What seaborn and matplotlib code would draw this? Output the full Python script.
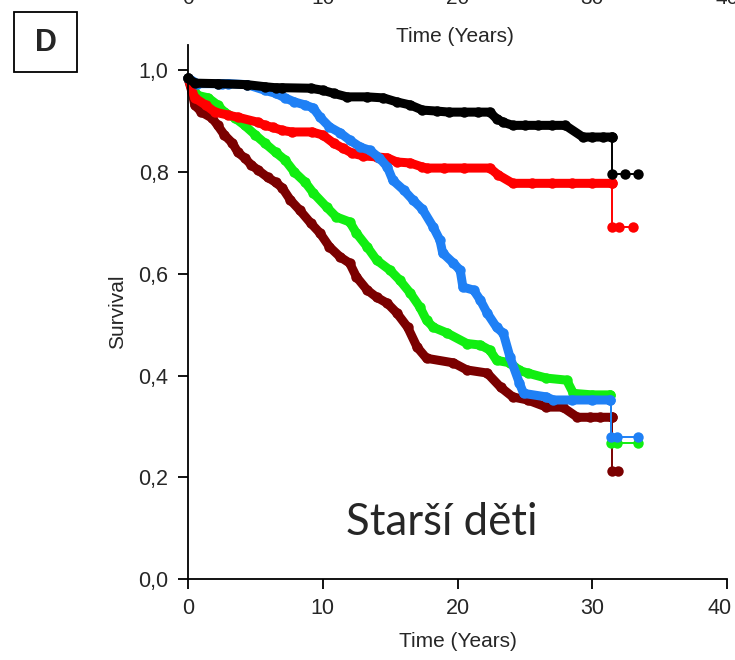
import matplotlib
matplotlib.use("Agg")
import matplotlib.pyplot as plt
import matplotlib.transforms as mtransforms
import pandas as pd
import seaborn as sns
from matplotlib.patches import Rectangle

# ---------------- data ----------------
black_t = [0, 0.5, 2.2, 4.4, 5.7, 6.5, 7.0, 9.1, 10.0, 10.8, 11.8, 13.3, 14.5, 15.5, 16.5, 17.4,
           18.5, 19.4, 20.5, 21.5, 22.4, 22.9, 23.4, 24.1, 25.0, 26.0, 27.0, 28.0, 29.3, 30.0, 30.8, 31.5]
black_s = [0.985, 0.975, 0.974, 0.972, 0.968, 0.966, 0.966, 0.965, 0.961, 0.955, 0.948, 0.948, 0.946,
           0.938, 0.932, 0.922, 0.920, 0.918, 0.918, 0.918, 0.918, 0.905, 0.898, 0.892, 0.892, 0.892,
           0.892, 0.892, 0.869, 0.869, 0.869, 0.869]
black_tail_t = [31.5, 32.4, 33.4]
black_tail_s = [0.797, 0.797, 0.797]

red_t = [0, 0.5, 1.3, 2.0, 3.0, 3.7, 5.2, 5.7, 6.3, 7.0, 7.7, 9.2, 10.0, 10.8, 11.5, 12.2, 13.0, 14.0,
         14.8, 15.5, 16.5, 17.4, 17.7, 19.0, 20.5, 22.4, 23.0, 24.1, 25.5, 27.0, 28.5, 30.0, 31.5]
red_s = [0.985, 0.946, 0.932, 0.918, 0.912, 0.908, 0.898, 0.892, 0.888, 0.882, 0.879, 0.879, 0.873,
         0.857, 0.847, 0.837, 0.832, 0.830, 0.828, 0.820, 0.818, 0.810, 0.808, 0.808, 0.808, 0.808,
         0.795, 0.778, 0.778, 0.778, 0.778, 0.778, 0.778]
red_tail_t = [31.5, 32.0, 33.0]
red_tail_s = [0.693, 0.693, 0.693]

blue_t = [0, 0.7, 2.2, 2.5, 3.0, 4.4, 5.7, 6.5, 7.2, 7.9, 8.7, 9.3, 9.8, 10.5, 11.3, 12.0, 12.8, 13.5,
          14.2, 14.8, 15.2, 16.0, 16.7, 17.4, 18.2, 18.7, 18.9, 19.7, 20.2, 20.4, 21.2, 21.7, 22.2,
          22.9, 23.4, 23.9, 24.6, 24.9, 26.6, 27.1, 28.5, 30.0, 31.3]
blue_s = [0.985, 0.974, 0.974, 0.974, 0.974, 0.972, 0.961, 0.955, 0.946, 0.938, 0.932, 0.926, 0.908,
          0.889, 0.877, 0.863, 0.849, 0.843, 0.828, 0.810, 0.784, 0.765, 0.745, 0.727, 0.692, 0.666,
          0.641, 0.621, 0.607, 0.574, 0.568, 0.548, 0.523, 0.495, 0.483, 0.436, 0.385, 0.365, 0.358,
          0.352, 0.352, 0.352, 0.352]
blue_tail_t = [31.4, 31.8, 33.4]
blue_tail_s = [0.279, 0.279, 0.279]

green_t = [0, 0.7, 1.5, 2.2, 2.7, 3.5, 4.2, 5.0, 5.7, 6.5, 7.2, 7.9, 8.7, 9.3, 10.3, 11.0, 12.0, 12.5,
           13.3, 14.0, 15.0, 15.7, 16.5, 17.2, 17.7, 18.2, 19.2, 20.7, 21.7, 22.4, 22.9, 23.9, 24.6,
           25.2, 26.6, 28.1, 28.6, 30.0, 31.3]
green_s = [0.985, 0.951, 0.946, 0.932, 0.918, 0.906, 0.892, 0.873, 0.857, 0.839, 0.824, 0.800, 0.780,
           0.759, 0.731, 0.712, 0.702, 0.680, 0.653, 0.627, 0.607, 0.588, 0.562, 0.535, 0.509, 0.495,
           0.484, 0.463, 0.460, 0.450, 0.430, 0.425, 0.410, 0.405, 0.395, 0.391, 0.365, 0.362, 0.362]
green_tail_t = [31.4, 31.8, 33.4]
green_tail_s = [0.267, 0.267, 0.267]

maroon_t = [0, 0.3, 0.5, 1.0, 1.8, 2.2, 2.7, 3.3, 3.7, 4.2, 4.7, 5.2, 5.9, 6.5, 7.0, 7.6, 8.3, 9.1,
            9.8, 10.5, 11.3, 12.0, 12.5, 13.3, 14.0, 14.8, 15.5, 16.3, 17.0, 17.7, 19.7, 20.7, 22.2,
            23.2, 24.1, 25.2, 26.6, 27.8, 28.9, 29.8, 30.6, 31.5]
maroon_s = [0.985, 0.957, 0.932, 0.918, 0.906, 0.892, 0.873, 0.857, 0.839, 0.828, 0.814, 0.804, 0.790,
            0.780, 0.769, 0.745, 0.725, 0.700, 0.680, 0.653, 0.633, 0.621, 0.594, 0.568, 0.554, 0.542,
            0.523, 0.495, 0.456, 0.434, 0.425, 0.411, 0.405, 0.377, 0.358, 0.352, 0.338, 0.338, 0.318,
            0.318, 0.318, 0.318]
maroon_tail_t = [31.5, 31.9]
maroon_tail_s = [0.212, 0.212]

x_ticks = [0, 10, 20, 30, 40]
y_ticks = [0.0, 0.2, 0.4, 0.6, 0.8, 1.0]
y_tick_labels = ["0,0", "0,2", "0,4", "0,6", "0,8", "1,0"]
panel_label = "D"
annotation = "Starší děti"
x_label = "Time (Years)"
y_label = "Survival"

colors = {"maroon": "#7b0000", "green": "#11ee11", "red": "#ff0000",
          "blue": "#1f80f5", "black": "#000000"}
series = [
    ("maroon", maroon_t, maroon_s, maroon_tail_t, maroon_tail_s),
    ("green", green_t, green_s, green_tail_t, green_tail_s),
    ("red", red_t, red_s, red_tail_t, red_tail_s),
    ("blue", blue_t, blue_s, blue_tail_t, blue_tail_s),
    ("black", black_t, black_s, black_tail_t, black_tail_s),
]

# ---------------- style ----------------
sns.set_style("ticks")
plt.rcParams["font.family"] = ["Liberation Sans", "DejaVu Sans"]

W, H = 735, 660
fig = plt.figure(figsize=(W / 100, H / 100), dpi=100)
ax = fig.add_axes([188 / W, 1 - 579 / H, (727 - 188) / W, (579 - 45) / H])

for name, t, s, tt, ts in series:
    tail = pd.DataFrame({"time": [t[-1]] + list(tt), "surv": [s[-1]] + list(ts)})
    body = pd.DataFrame({"time": t, "surv": s})
    c = colors[name]
    # thin step from the last event down to the censored tail
    sns.lineplot(data=tail, x="time", y="surv", estimator=None, sort=False,
                 drawstyle="steps-post", color=c, linewidth=1.4,
                 marker="o", markersize=7.5, markeredgewidth=0, clip_on=False, ax=ax)
    # dense run of event dots rendered as a continuous band
    sns.lineplot(data=body, x="time", y="surv", estimator=None, sort=False,
                 color=c, linewidth=6.5, marker="o", markersize=7.5, markeredgewidth=0,
                 solid_joinstyle="round", solid_capstyle="round", clip_on=False, ax=ax)

ax.set_xlim(0, 40)
ax.set_ylim(0, 1.05)
ax.set_xticks(x_ticks)
ax.set_xticklabels([str(v) for v in x_ticks])
ax.set_yticks(y_ticks)
ax.set_yticklabels(y_tick_labels)
ax.tick_params(axis="both", direction="out", length=7, width=1.3, labelsize=15.5, pad=7, color="black")
for sp in ["top", "right"]:
    ax.spines[sp].set_visible(False)
for sp in ["left", "bottom"]:
    ax.spines[sp].set_linewidth(1.3)
    ax.spines[sp].set_color("black")
ax.set_xlabel(x_label, fontsize=15, labelpad=9)
ax.set_ylabel(y_label, fontsize=15, labelpad=8)

# keep the last x tick label inside the canvas
last = ax.get_xticklabels()[-1]
last.set_transform(last.get_transform() + mtransforms.ScaledTranslation(-7 / 100, 0, fig.dpi_scale_trans))

ax.text(18.85, 0.112, annotation, fontsize=31.5, ha="center", va="center",
        family=["Lato", "DejaVu Sans"])

# remnants of the panel above (cut by the top edge, as in the reference)
for v in x_ticks:
    xp = (188 + v * (727 - 188) / 40) / W
    fig.text(xp, 1 + 1 / H, str(v), fontsize=15, ha="center", va="center")
fig.text(455 / W, 1 - 37 / H, x_label, fontsize=15, ha="center", va="center")

# panel label box
fig.patches.append(Rectangle((14 / W, 1 - 72 / H), 63 / W, 60 / H, transform=fig.transFigure,
                             fill=False, edgecolor="black", linewidth=1.3))
fig.text(45.5 / W, 1 - 43 / H, panel_label, fontsize=22, fontweight="bold", ha="center", va="center")

fig.savefig("out.png", dpi=100)
